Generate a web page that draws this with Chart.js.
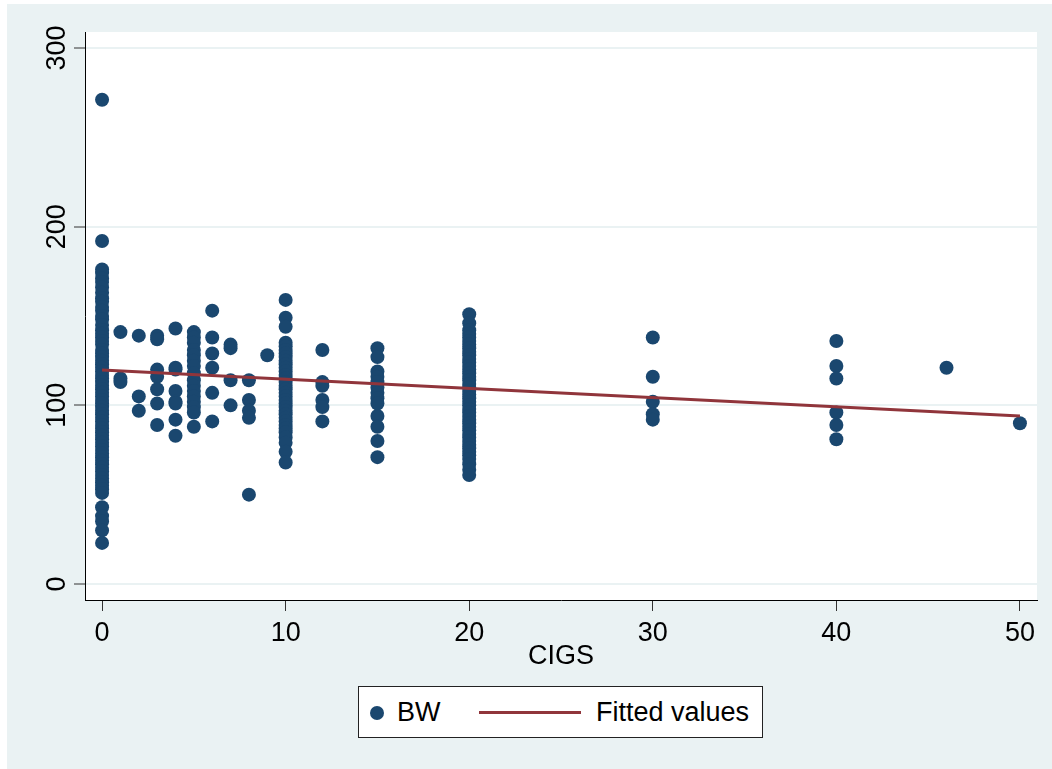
<!DOCTYPE html>
<html lang="en">
<head>
    <meta charset="UTF-8">
    <title>BW vs CIGS</title>
    <script src="https://cdn.jsdelivr.net/npm/chart.js@4.4.1/dist/chart.umd.min.js"></script>
    <style>
        body { margin: 0; background: #fff; }
        #wrap { position: relative; width: 1052px; height: 769px; }
        #legend {
            position: absolute; left: 358px; top: 686px; width: 403px; height: 50px;
            border: 1px solid #222; background: #fff;
            font-family: "Liberation Sans", Arial, sans-serif; font-size: 27px; color: #000;
        }
        #legend .dot { position: absolute; left: 11px; top: 19px; width: 14px; height: 14px; border-radius: 50%; background: #1A476F; }
        #legend .bwtxt { position: absolute; left: 38px; top: 10px; }
        #legend .line { position: absolute; left: 120px; top: 24px; width: 102px; height: 3px; background: #90353B; }
        #legend .fittxt { position: absolute; left: 237px; top: 10px; }
    </style>
    <script>
        // cigarettes per day levels and the birth weights
        var cigsLevels = [0, 1, 2, 3, 4, 5, 6, 7, 8, 9, 10, 12, 15, 20, 30, 40, 46, 50];
        var bwByCigs = [
            [271, 192, 176, 174, 171, 169, 166, 163, 160, 158, 155, 153, 150, 148, 145, 142, 140, 138, 136, 134, 131,
             129, 127, 125, 123, 121, 119, 117, 115, 113, 111, 109, 107, 105, 103, 101, 99, 97, 95, 93, 91, 89, 87,
             85, 83, 81, 79, 77, 75, 73, 71, 69, 67, 65, 63, 61, 59, 57, 55, 53, 51, 43, 38, 35, 30, 23],
            [141, 115, 113],
            [139, 105, 97],
            [139, 137, 120, 116, 109, 101, 89],
            [143, 121, 120, 108, 102, 101, 92, 83],
            [141, 138, 135, 131, 128, 125, 122, 118, 114, 111, 108, 105, 102, 99, 96, 88],
            [153, 138, 129, 121, 107, 91],
            [134, 132, 114, 100],
            [114, 103, 97, 93, 50],
            [128],
            [159, 149, 144, 135, 133, 131, 129, 127, 125, 123, 121, 119, 117, 115, 113, 111, 109, 107, 105, 103,
             101, 99, 97, 95, 93, 91, 89, 87, 85, 82, 79, 74, 68],
            [131, 113, 111, 103, 99, 91],
            [132, 127, 119, 116, 113, 110, 107, 104, 101, 94, 88, 80, 71],
            [151, 146, 142, 140, 138, 136, 134, 132, 130, 128, 126, 124, 122, 120, 118, 116, 114, 112, 110, 108,
             106, 104, 102, 100, 98, 96, 94, 92, 90, 88, 86, 84, 82, 80, 78, 76, 74, 72, 70, 67, 64, 61],
            [138, 116, 102, 95, 92],
            [136, 122, 115, 96, 89, 81],
            [121],
            [90]
        ];
        // fitted values line, ends
        var fitX = [0, 50];
        var fitY = [119.8, 94.0];
        var xTicks = [0, 10, 20, 30, 40, 50];
        var yTicks = [0, 100, 200, 300];

        window.onload = function () {
            var points = [];
            for (var i = 0; i < cigsLevels.length; i++) {
                for (var j = 0; j < bwByCigs[i].length; j++) {
                    points.push({x: cigsLevels[i], y: bwByCigs[i][j]});
                }
            }
            var fitted = fitX.map(function (x, k) { return {x: x, y: fitY[k]}; });

            var font = {family: '"Liberation Sans", Arial, sans-serif', size: 27};

            var bgPlugin = {
                id: 'stataBg',
                beforeDraw: function (chart) {
                    var c = chart.ctx, a = chart.chartArea;
                    c.save();
                    c.fillStyle = '#ffffff';
                    c.fillRect(0, 0, chart.width, chart.height);
                    c.fillStyle = '#EAF2F3';
                    c.fillRect(7, 4, chart.width - 7, chart.height - 4);
                    c.fillStyle = '#ffffff';
                    c.fillRect(a.left, a.top, a.right - a.left, a.bottom - a.top);
                    c.restore();
                }
            };

            new Chart(document.getElementById('chart'), {
                type: 'scatter',
                data: {
                    datasets: [{
                        label: 'BW',
                        data: points,
                        order: 2,
                        pointRadius: 7,
                        pointBackgroundColor: '#1A476F',
                        pointBorderColor: '#1A476F',
                        pointBorderWidth: 0
                    }, {
                        type: 'line',
                        label: 'Fitted values',
                        data: fitted,
                        order: 1,
                        borderColor: '#90353B',
                        borderWidth: 3,
                        pointRadius: 0,
                        fill: false
                    }]
                },
                options: {
                    responsive: false,
                    animation: false,
                    events: [],
                    layout: {padding: {top: 32, right: 15, left: 0, bottom: 0}},
                    plugins: {legend: {display: false}, tooltip: {enabled: false}},
                    scales: {
                        x: {
                            type: 'linear',
                            min: -0.93, max: 50.93,
                            afterBuildTicks: function (s) { s.ticks = xTicks.map(function (v) { return {value: v}; }); },
                            afterFit: function (s) { s.height = 169; },
                            border: {display: true, color: '#000', width: 1},
                            grid: {drawOnChartArea: false, drawTicks: true, tickLength: 11, tickColor: '#333', tickWidth: 1},
                            ticks: {color: '#000', font: font, padding: 6, maxRotation: 0},
                            title: {display: true, text: 'CIGS', color: '#000', font: font, padding: {top: 0, bottom: 96}}
                        },
                        y: {
                            min: -8.95, max: 308.95,
                            afterBuildTicks: function (s) { s.ticks = yTicks.map(function (v) { return {value: v}; }); },
                            afterFit: function (s) { s.width = 85; },
                            border: {display: true, color: '#000', width: 1},
                            grid: {color: '#EAF2F3', lineWidth: 2, drawTicks: true, tickLength: 11, tickColor: '#333', tickWidth: 1},
                            ticks: {color: '#000', font: font, padding: -6, minRotation: 90, maxRotation: 90, crossAlign: 'center'}
                        }
                    }
                },
                plugins: [bgPlugin]
            });
        };
    </script>
</head>
<body>
    <div id="wrap">
        <canvas id="chart" width="1052" height="769"></canvas>
        <div id="legend">
            <span class="dot"></span><span class="bwtxt">BW</span>
            <span class="line"></span><span class="fittxt">Fitted values</span>
        </div>
    </div>
</body>
</html>
